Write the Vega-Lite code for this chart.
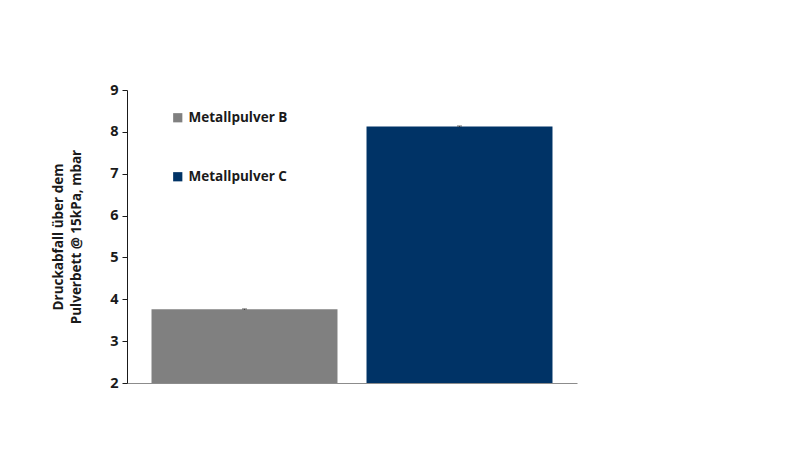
{
  "$schema": "https://vega.github.io/schema/vega-lite/v6.json",
  "autosize": {"type": "none"},
  "padding": {"left": 127, "top": 90, "right": 223, "bottom": 67},
  "width": 450,
  "height": 293,
  "background": "white",
  "config": {
    "view": {"stroke": null},
    "font": "Open Sans"
  },
  "data": {
    "values": [
      {"pulver": "Metallpulver B", "wert": 3.76, "lo": 3.75, "hi": 3.77},
      {"pulver": "Metallpulver C", "wert": 8.13, "lo": 8.12, "hi": 8.14}
    ]
  },
  "layer": [
    {
      "mark": {"type": "bar"},
      "encoding": {
        "x": {
          "field": "pulver", "type": "nominal",
          "scale": {"paddingInner": 0.135, "paddingOuter": 0.114},
          "axis": {"labels": false, "ticks": false, "title": null, "domainColor": "#8c8c8c", "domainWidth": 1}
        },
        "y": {
          "field": "wert", "type": "quantitative",
          "scale": {"domain": [2, 9], "nice": false, "zero": false},
          "axis": {
            "values": [2, 3, 4, 5, 6, 7, 8, 9],
            "grid": false,
            "domainColor": "#1a1a1a",
            "tickColor": "#1a1a1a",
            "tickSize": 5,
            "labelPadding": 4,
            "labelFont": "Open Sans",
            "labelFontSize": 14.5,
            "labelFontWeight": "bold",
            "labelColor": "#1a1a1a",
            "title": ["Druckabfall über dem", "Pulverbett @ 15kPa, mbar"],
            "titleFont": "Open Sans",
            "titleFontSize": 13.5,
            "titleFontWeight": "bold",
            "titleColor": "#1a1a1a",
            "titleLineHeight": 18,
            "titlePadding": 26
          }
        },
        "y2": {"datum": 2},
        "color": {
          "field": "pulver", "type": "nominal",
          "scale": {"domain": ["Metallpulver B", "Metallpulver C"], "range": ["#808080", "#003366"]},
          "legend": {
            "orient": "none",
            "legendX": 44,
            "legendY": 21,
            "title": null,
            "symbolType": "square",
            "symbolSize": 85,
            "symbolStrokeWidth": 0,
            "labelFont": "Open Sans",
            "labelFontSize": 13.5,
            "labelFontWeight": "bold",
            "labelColor": "#1a1a1a",
            "labelOffset": 4,
            "rowPadding": 44,
            "padding": 0
          }
        }
      }
    },
    {
      "mark": {"type": "rule", "color": "#333333", "strokeWidth": 1},
      "encoding": {
        "x": {"field": "pulver", "type": "nominal"},
        "y": {"field": "lo", "type": "quantitative"},
        "y2": {"field": "hi"}
      }
    },
    {
      "mark": {"type": "tick", "color": "#333333", "thickness": 1, "size": 5, "orient": "horizontal"},
      "encoding": {
        "x": {"field": "pulver", "type": "nominal"},
        "y": {"field": "hi", "type": "quantitative"}
      }
    }
  ]
}
